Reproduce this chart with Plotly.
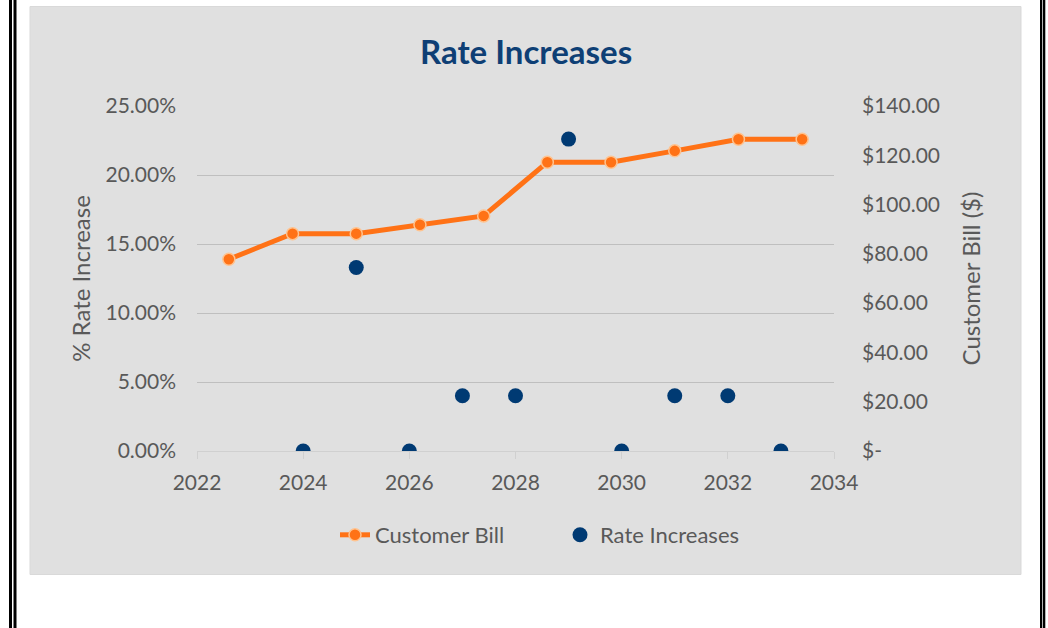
import plotly.graph_objects as go

# ---- data ----
rate_years = [2024, 2025, 2026, 2027, 2028, 2029, 2030, 2031, 2032, 2033]
rate_increase = [0.0, 0.133, 0.0, 0.04, 0.04, 0.226, 0.0, 0.04, 0.04, 0.0]
bill_categories = ["2024", "2025", "2026", "2027", "2028", "2029", "2030", "2031", "2032", "2033"]
customer_bill = [77.8, 88.2, 88.2, 91.8, 95.4, 117.2, 117.2, 121.8, 126.5, 126.5]
bill_tick_values = [0, 20, 40, 60, 80, 100, 120, 140]
bill_tick_labels = ["$-" if v == 0 else f"${v:,.2f}" for v in bill_tick_values]

W, H = 1048, 628
L, R, T, B = 197, 834, 106, 451  # plot area in px


def px(x):
    return (x - L) / (R - L)


def py(y):
    return (B - y) / (B - T)


FONT = "Lato, 'Open Sans', sans-serif"
TXT = "#595959"
ORANGE = "#FF7216"
NAVY = "#003A73"

fig = go.Figure()

fig.add_trace(go.Scatter(
    x=bill_categories, y=customer_bill, name="Customer Bill",
    mode="lines+markers", xaxis="x2", yaxis="y2",
    line=dict(color=ORANGE, width=5),
    marker=dict(color=ORANGE, size=12, line=dict(color="#FFC38F", width=1.5)),
))
fig.add_trace(go.Scatter(
    x=rate_years, y=rate_increase, name="Rate Increases",
    mode="markers", xaxis="x", yaxis="y",
    marker=dict(color=NAVY, size=15),
))

shapes = [
    # gray chart area
    dict(type="rect", xref="paper", yref="paper", layer="below",
         x0=px(30), x1=px(1021), y0=py(6.5), y1=py(574.5),
         fillcolor="#E0E0E0", line=dict(color="#D9D9D9", width=1)),
    # page border lines
    dict(type="rect", xref="paper", yref="paper", x0=px(9), x1=px(12), y0=py(0), y1=py(628),
         fillcolor="black", line=dict(width=0)),
    dict(type="rect", xref="paper", yref="paper", x0=px(13.5), x1=px(16.5), y0=py(0), y1=py(628),
         fillcolor="black", line=dict(width=0)),
    dict(type="rect", xref="paper", yref="paper", x0=px(1040), x1=px(1042.3), y0=py(0), y1=py(628),
         fillcolor="black", line=dict(width=0)),
    dict(type="rect", xref="paper", yref="paper", x0=px(1043), x1=px(1045.3), y0=py(0), y1=py(628),
         fillcolor="black", line=dict(width=0)),
]

fig.update_layout(
    width=W, height=H,
    margin=dict(l=L, r=W - R, t=T, b=H - B, pad=0),
    paper_bgcolor="white", plot_bgcolor="rgba(0,0,0,0)",
    font=dict(family=FONT, color=TXT, size=21),
    showlegend=True,
    legend=dict(orientation="h", x=px(335), xanchor="left", y=py(535), yanchor="middle",
                font=dict(size=22, color=TXT), bgcolor="rgba(0,0,0,0)",
                traceorder="normal", entrywidth=180),
    shapes=shapes,
    annotations=[dict(text="<b>Rate Increases</b>", xref="paper", yref="paper",
                      x=px(525.5), y=py(51), xanchor="center", yanchor="middle",
                      showarrow=False, font=dict(family=FONT, size=33, color="#0E3F75"))],
    xaxis=dict(range=[2022, 2034], dtick=2, tick0=2022, showgrid=False, zeroline=False,
               showline=True, linecolor="#D0D0D0", linewidth=1,
               ticks="outside", ticklen=7, tickcolor="#D0D0D0",
               tickfont=dict(size=21, color=TXT), ticklabelstandoff=6),
    xaxis2=dict(type="category", range=[-0.5, 9.5], overlaying="x", visible=False),
    yaxis=dict(range=[0, 0.25], dtick=0.05, tickformat=".2%", showgrid=True,
               gridcolor="#BFBFBF", gridwidth=1.3, zeroline=False, showline=False,
               ticks="", tickfont=dict(size=21, color=TXT), ticklabelstandoff=20,
               title=dict(text="% Rate Increase", font=dict(size=24, color=TXT), standoff=8)),
    yaxis2=dict(range=[0, 140], tickvals=bill_tick_values, ticktext=bill_tick_labels,
                overlaying="y", side="right", showgrid=False, zeroline=False, showline=False,
                ticks="", tickfont=dict(size=21, color=TXT), ticklabelstandoff=27,
                title=dict(text="Customer Bill ($)", font=dict(size=24, color=TXT), standoff=24)),
)

fig.write_html("out.html")
